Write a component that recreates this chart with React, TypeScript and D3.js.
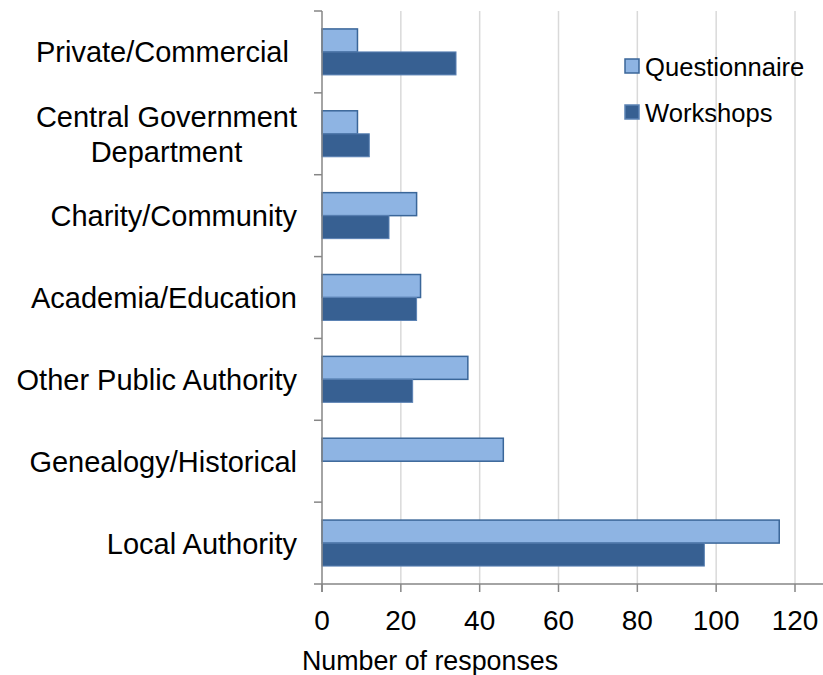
import React, { useLayoutEffect, useRef, useState } from "react";
import * as d3 from "d3";

const categories = [
  "Private/Commercial ",
  "Central Government Department",
  "Charity/Community",
  "Academia/Education",
  "Other Public Authority",
  "Genealogy/Historical",
  "Local Authority",
];
const categoryLines: string[][] = [
  ["Private/Commercial "],
  ["Central Government", "Department"],
  ["Charity/Community"],
  ["Academia/Education"],
  ["Other Public Authority"],
  ["Genealogy/Historical"],
  ["Local Authority"],
];
const seriesNames = ["Questionnaire", "Workshops"];
const questionnaire = [9, 9, 24, 25, 37, 46, 116];
const workshops = [34, 12, 17, 24, 23, 0, 97];
const xTicks = [0, 20, 40, 60, 80, 100, 120];
const xTitle = "Number of responses";

const W = 823;
const H = 675;
const FONT = "'Liberation Sans', Arial, sans-serif";
const fills = ["#8EB4E3", "#376092"];
const strokes = ["#3A6699", "#5B82B4"];
const LABEL_RIGHT = 297;
const LABEL_SIZE = 29;

function CategoryLabel({ lines, cy }: { lines: string[]; cy: number }) {
  const ref = useRef<SVGTextElement>(null);
  const [w, setW] = useState(0);
  useLayoutEffect(() => {
    if (!ref.current) return;
    const tspans = Array.from(ref.current.querySelectorAll("tspan")) as SVGTextContentElement[];
    const m = d3.max(tspans, (t) => t.getComputedTextLength()) || 0;
    setW(m);
  }, [lines]);
  const lh = 35;
  const multi = lines.length > 1;
  const cx = LABEL_RIGHT - w / 2;
  return (
    <text
      ref={ref}
      textAnchor={multi ? "middle" : "end"}
      fontSize={LABEL_SIZE}
      fill="#000"
      style={{ whiteSpace: "pre" }}
    >
      {lines.map((l, k) => (
        <tspan key={k} x={multi ? cx : LABEL_RIGHT} y={cy + 10.5 + (k - (lines.length - 1) / 2) * lh}>
          {l}
        </tspan>
      ))}
    </text>
  );
}

export default function App() {
  const x = d3.scaleLinear().domain([0, 120]).range([322, 795]);
  const y0 = d3.scaleBand<string>().domain(categories).range([11, 584]).paddingInner(0).paddingOuter(0);
  const y1 = d3.scaleBand<string>().domain(seriesNames).range([0, y0.step()]).paddingInner(0).paddingOuter(0.78);
  const values = [questionnaire, workshops];
  const boundaries = d3.range(categories.length + 1).map((i) => 11 + i * y0.step());

  return (
    <svg width={W} height={H} style={{ position: "absolute", left: 0, top: 0, background: "#fff" }} fontFamily={FONT}>
      {/* gridlines */}
      {xTicks.filter((t) => t > 0).map((t) => (
        <line key={"g" + t} x1={x(t)} x2={x(t)} y1={11} y2={584} stroke="#D9D9D9" strokeWidth={1.5} />
      ))}
      {/* bars */}
      {categories.map((c, i) =>
        seriesNames.map((s, j) => {
          const v = values[j][i];
          if (!v) return null;
          return (
            <rect
              key={c + s}
              x={x(0)}
              y={(y0(c) as number) + (y1(s) as number)}
              width={x(v) - x(0)}
              height={y1.bandwidth()}
              fill={fills[j]}
              stroke={strokes[j]}
              strokeWidth={j === 0 ? 1.5 : 1}
            />
          );
        })
      )}
      {/* axes */}
      <line x1={322} x2={823} y1={584} y2={584} stroke="#868686" strokeWidth={1.5} />
      <line x1={322} x2={322} y1={11} y2={592} stroke="#868686" strokeWidth={1.5} />
      {boundaries.map((b, i) => (
        <line key={"yt" + i} x1={314} x2={322} y1={b} y2={b} stroke="#868686" strokeWidth={1.5} />
      ))}
      {xTicks.map((t) => (
        <line key={"xt" + t} x1={x(t)} x2={x(t)} y1={584} y2={592} stroke="#868686" strokeWidth={1.5} />
      ))}
      {xTicks.map((t) => (
        <text key={"xl" + t} x={x(t)} y={630} textAnchor="middle" fontSize={28} fill="#000">
          {t}
        </text>
      ))}
      {categories.map((c, i) => (
        <CategoryLabel key={"cl" + c} lines={categoryLines[i]} cy={(y0(c) as number) + y0.step() / 2} />
      ))}
      <text x={430} y={670} textAnchor="middle" fontSize={26.8} fill="#000">
        {xTitle}
      </text>
      {/* legend */}
      {seriesNames.map((s, j) => (
        <g key={"lg" + s} transform={`translate(625, ${59 + j * 46})`}>
          <rect x={0} y={0} width={14} height={14} fill={fills[j]} stroke={strokes[j]} strokeWidth={1.5} />
          <text x={20} y={16.5} fontSize={25.6} fill="#000">
            {s}
          </text>
        </g>
      ))}
    </svg>
  );
}
